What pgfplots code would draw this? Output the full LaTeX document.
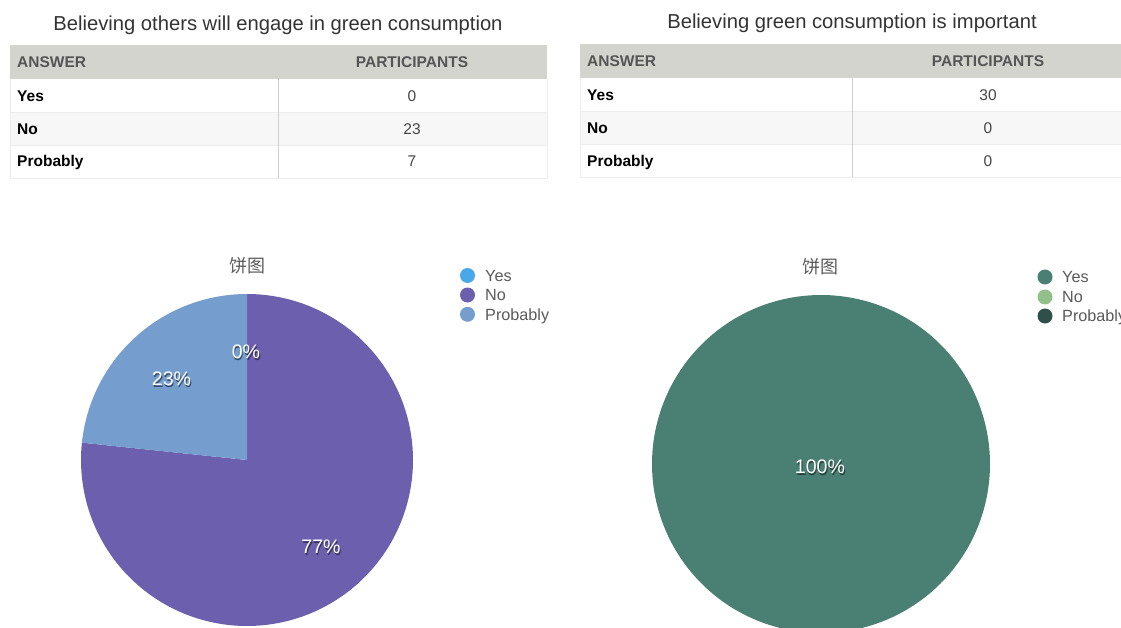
\documentclass[border=0pt]{standalone}
\usepackage{fontspec}
\setmainfont{Liberation Sans}
\newfontfamily\cjk{Noto Sans CJK SC}
\usepackage{pgfplots}
\pgfplotsset{compat=1.18}
\definecolor{hdr}{RGB}{212,212,207}
\definecolor{rowalt}{RGB}{247,247,247}
\definecolor{gridc}{RGB}{236,236,236}
\definecolor{divc}{RGB}{208,208,208}
\definecolor{titc}{RGB}{51,51,51}
\definecolor{hdtxt}{RGB}{85,85,85}
\definecolor{valtxt}{RGB}{70,70,70}
\definecolor{legtxt}{RGB}{90,90,90}
\definecolor{cYesA}{RGB}{74,168,232}
\definecolor{cNoA}{RGB}{107,95,174}
\definecolor{cProbA}{RGB}{117,158,207}
\definecolor{cYesB}{RGB}{74,127,115}
\definecolor{cNoB}{RGB}{147,192,138}
\definecolor{cProbB}{RGB}{46,80,73}
\newcommand\fs[1]{\fontsize{#1}{#1}\selectfont}
% data
\def\LYes{0}\def\LNo{23}\def\LProb{7}
\def\RYes{30}\def\RNo{0}\def\RProb{0}
\pgfmathsetmacro\LT{\LYes+\LNo+\LProb}%
\pgfmathsetmacro\La{90-360*\LYes/\LT}%
\pgfmathsetmacro\Lb{\La-360*\LNo/\LT}%
\pgfmathsetmacro\Lc{\Lb-360*\LProb/\LT}%
\pgfmathsetmacro\RT{\RYes+\RNo+\RProb}%
\pgfmathsetmacro\Ra{90-360*\RYes/\RT}%
\begin{document}%
\begin{tikzpicture}[x=1pt,y=1pt]
\useasboundingbox (0,0) rectangle (1121,628);
\clip (0,0) rectangle (1121,628);
\begin{axis}[at={(0,0)},anchor=south west,scale only axis,
  width=1121pt,height=628pt,xmin=0,xmax=1121,ymin=0,ymax=628,
  y dir=reverse,hide axis,clip=false]
% ---------- left table ----------
\fill[hdr] (axis cs:10,45) rectangle (axis cs:547,79);
\fill[rowalt] (axis cs:10,112) rectangle (axis cs:547,145);
\draw[gridc] (axis cs:10,112) -- (axis cs:547,112);
\draw[gridc] (axis cs:10,145) -- (axis cs:547,145);
\draw[gridc] (axis cs:10,178) -- (axis cs:547,178);
\draw[gridc] (axis cs:10,79) -- (axis cs:10,178);
\draw[gridc] (axis cs:547,79) -- (axis cs:547,178);
\draw[divc] (axis cs:278,79) -- (axis cs:278,178);
\node[anchor=base,text=titc,font=\fs{20.2},inner sep=0] at (axis cs:278,31) {Believing others will engage in green consumption};
\node[anchor=base west,text=hdtxt,font=\fs{15.5}\bfseries,inner sep=0] at (axis cs:17,67.6) {ANSWER};
\node[anchor=base,text=hdtxt,font=\fs{15.5}\bfseries,inner sep=0] at (axis cs:412,67.6) {PARTICIPANTS};
\node[anchor=base west,font=\fs{15.5}\bfseries,inner sep=0] at (axis cs:17,101.6) {Yes};
\node[anchor=base west,font=\fs{15.5}\bfseries,inner sep=0] at (axis cs:17,134.6) {No};
\node[anchor=base west,font=\fs{15.5}\bfseries,inner sep=0] at (axis cs:17,166.6) {Probably};
\node[anchor=base,text=valtxt,font=\fs{15.5},inner sep=0] at (axis cs:412,101.6) {\LYes};
\node[anchor=base,text=valtxt,font=\fs{15.5},inner sep=0] at (axis cs:412,134.6) {\LNo};
\node[anchor=base,text=valtxt,font=\fs{15.5},inner sep=0] at (axis cs:412,166.6) {\LProb};
% ---------- right table ----------
\fill[hdr] (axis cs:580,44) rectangle (axis cs:1121,78);
\fill[rowalt] (axis cs:580,111) rectangle (axis cs:1121,144);
\draw[gridc] (axis cs:580,111) -- (axis cs:1121,111);
\draw[gridc] (axis cs:580,144) -- (axis cs:1121,144);
\draw[gridc] (axis cs:580,177) -- (axis cs:1121,177);
\draw[gridc] (axis cs:580,78) -- (axis cs:580,177);
\draw[divc] (axis cs:852,78) -- (axis cs:852,177);
\node[anchor=base,text=titc,font=\fs{20.2},inner sep=0] at (axis cs:852,29) {Believing green consumption is important};
\node[anchor=base west,text=hdtxt,font=\fs{15.5}\bfseries,inner sep=0] at (axis cs:587,66.6) {ANSWER};
\node[anchor=base,text=hdtxt,font=\fs{15.5}\bfseries,inner sep=0] at (axis cs:988,66.6) {PARTICIPANTS};
\node[anchor=base west,font=\fs{15.5}\bfseries,inner sep=0] at (axis cs:587,100.6) {Yes};
\node[anchor=base west,font=\fs{15.5}\bfseries,inner sep=0] at (axis cs:587,133.6) {No};
\node[anchor=base west,font=\fs{15.5}\bfseries,inner sep=0] at (axis cs:587,166.6) {Probably};
\node[anchor=base,text=valtxt,font=\fs{15.5},inner sep=0] at (axis cs:988,100.6) {\RYes};
\node[anchor=base,text=valtxt,font=\fs{15.5},inner sep=0] at (axis cs:988,133.6) {\RNo};
\node[anchor=base,text=valtxt,font=\fs{15.5},inner sep=0] at (axis cs:988,166.6) {\RProb};
% ---------- left pie ----------
\addplot[fill=cNoA,draw=none,domain=\Lb:\La,samples=200,variable=\t]
  ({247+166*cos(\t)},{460-166*sin(\t)}) -- (axis cs:247,460) -- cycle;
\addplot[fill=cProbA,draw=none,domain=\Lc:\Lb,samples=80,variable=\t]
  ({247+166*cos(\t)},{460-166*sin(\t)}) -- (axis cs:247,460) -- cycle;
\node[anchor=base,text=legtxt,font=\cjk\fs{18}] at (axis cs:247,272.8) {饼图};
\fill[cYesA] (axis cs:467.5,275.5) circle[radius=7.5pt];
\fill[cNoA] (axis cs:467.5,295) circle[radius=7.5pt];
\fill[cProbA] (axis cs:467.5,314.3) circle[radius=7.5pt];
\node[anchor=base west,text=legtxt,font=\fs{16.2},inner sep=0] at (axis cs:485,281.3) {Yes};
\node[anchor=base west,text=legtxt,font=\fs{16.2},inner sep=0] at (axis cs:485,300.8) {No};
\node[anchor=base west,text=legtxt,font=\fs{16.2},inner sep=0] at (axis cs:485,320.1) {Probably};
\node[anchor=center,text=black,opacity=0.5,font=\fs{19.6}] at (axis cs:246.9,353.5) {0\%};
\node[anchor=center,text=white,font=\fs{19.6}] at (axis cs:246,352) {0\%};
\node[anchor=center,text=black,opacity=0.5,font=\fs{19.6}] at (axis cs:172.4,380.5) {23\%};
\node[anchor=center,text=white,font=\fs{19.6}] at (axis cs:171.5,379) {23\%};
\node[anchor=center,text=black,opacity=0.5,font=\fs{19.6}] at (axis cs:321.9,548.5) {77\%};
\node[anchor=center,text=white,font=\fs{19.6}] at (axis cs:321,547) {77\%};
% ---------- right pie ----------
\addplot[fill=cYesB,draw=none,domain=\Ra:90,samples=300,variable=\t]
  ({821+169*cos(\t)},{464-169*sin(\t)}) -- (axis cs:821,464) -- cycle;
\node[anchor=base,text=legtxt,font=\cjk\fs{18}] at (axis cs:820,273.8) {饼图};
\fill[cYesB] (axis cs:1045,277) circle[radius=7.5pt];
\fill[cNoB] (axis cs:1045,297) circle[radius=7.5pt];
\fill[cProbB] (axis cs:1045,316) circle[radius=7.5pt];
\node[anchor=base west,text=legtxt,font=\fs{16.2},inner sep=0] at (axis cs:1062,282.8) {Yes};
\node[anchor=base west,text=legtxt,font=\fs{16.2},inner sep=0] at (axis cs:1062,302.8) {No};
\node[anchor=base west,text=legtxt,font=\fs{16.2},inner sep=0] at (axis cs:1062,321.8) {Probably};
\node[anchor=center,text=black,opacity=0.5,font=\fs{19.6}] at (axis cs:820.9,468.5) {100\%};
\node[anchor=center,text=white,font=\fs{19.6}] at (axis cs:820,467) {100\%};
\end{axis}
\end{tikzpicture}%
\end{document}
